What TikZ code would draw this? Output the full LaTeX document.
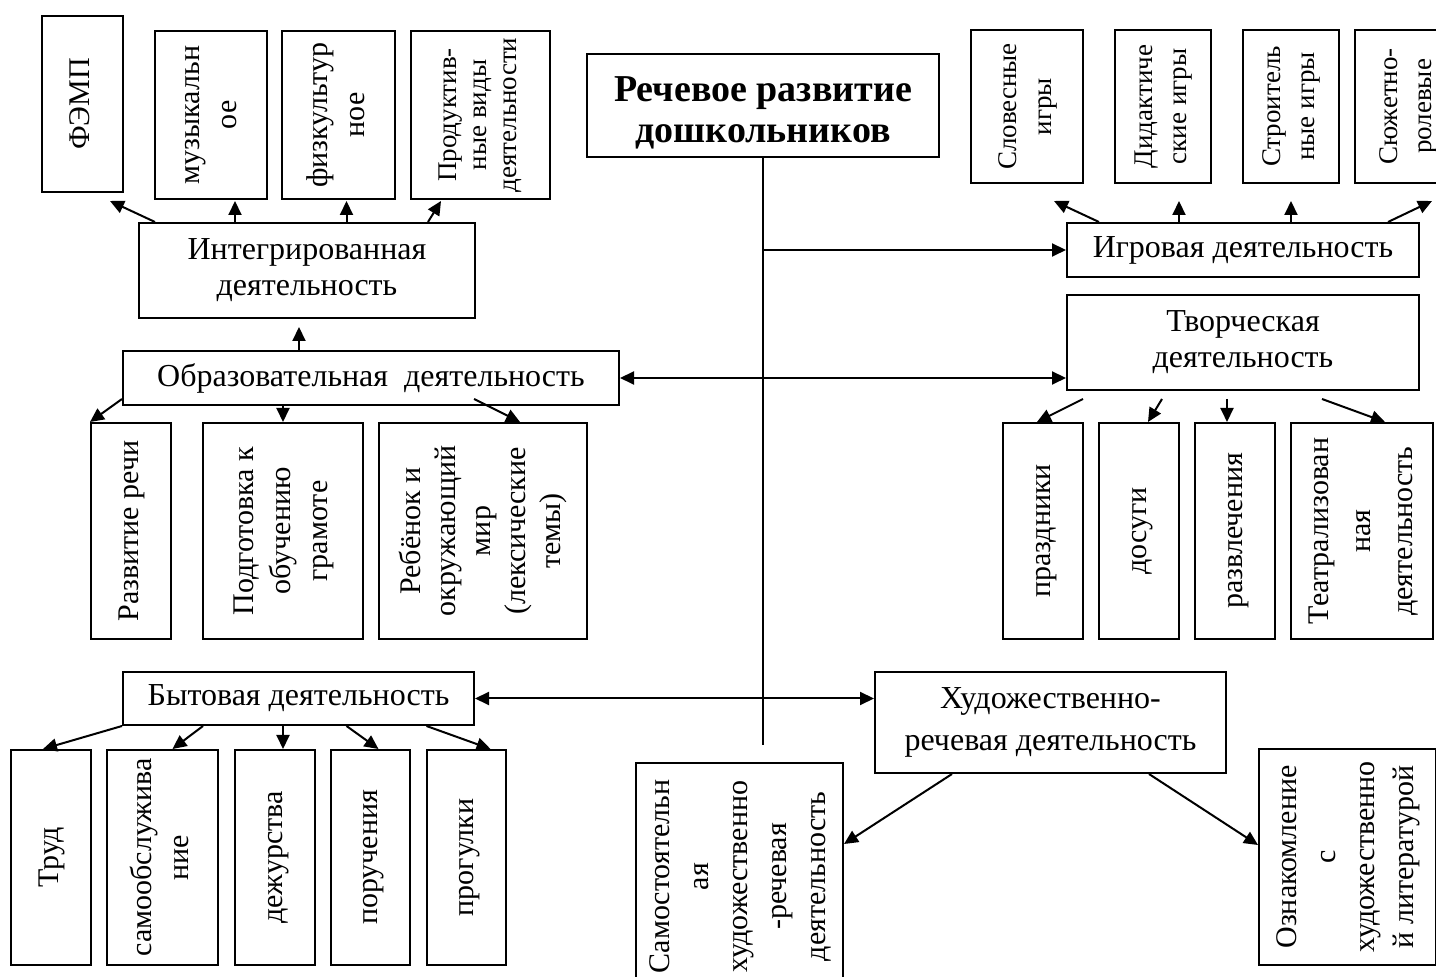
\documentclass[tikz,border=0pt]{standalone}
\usepackage{fontspec}
\setmainfont{Liberation Serif}
\usepackage{graphicx}
\usetikzlibrary{arrows.meta}

\newcommand{\vlab}[1]{\rotatebox{90}{\begin{tabular}{@{}c@{}}#1\end{tabular}}}

\tikzset{
  box/.style={draw, line width=1pt, inner sep=0pt, align=center, font=\fontsize{16}{18}\selectfont},
  vbox/.style={box, font=\fontsize{15}{18.5}\selectfont},
  arr/.style={line width=1pt, -{Triangle[length=7pt,width=6.5pt]}},
  dblarr/.style={line width=1pt, {Triangle[length=7pt,width=6.5pt]}-{Triangle[length=7pt,width=6.5pt]}}
}

\begin{document}
\begin{tikzpicture}[x=0.5pt, y=-0.5pt]
\useasboundingbox (0,0) rectangle (1436,977);

\node[box, minimum width=176pt, minimum height=51.5pt, font=\fontsize{19}{20.5}\selectfont\bfseries] (title) at (763,105.5) {\rule{0pt}{20pt}Речевое развитие\\дошкольников};

% left top
\node[vbox, minimum width=40.5pt, minimum height=88pt] (fem) at (82.5,104) {\vlab{ФЭМП}};
\node[vbox, minimum width=56pt, minimum height=84pt] (mus) at (211,115) {\vlab{музыкальн\\ое}};
\node[vbox, minimum width=56.5pt, minimum height=84pt] (fiz) at (338.5,115) {\vlab{физкультур\\ное}};
\node[vbox, minimum width=69.5pt, minimum height=84pt, font=\fontsize{13.5}{15}\selectfont] (prod) at (480.5,115) {\vlab{Продуктив-\\ные виды\\деятельности}};
\node[box, minimum width=168pt, minimum height=47.5pt] (integ) at (307,270.5) {Интегрированная\\деятельность};

\node[box, minimum width=248pt, minimum height=27pt] (obr) at (371,378) {Образовательная\ \ деятельность};
\node[vbox, minimum width=40pt, minimum height=108pt] (razv) at (131,531) {\vlab{Развитие речи}};
\node[vbox, minimum width=80pt, minimum height=108pt] (podg) at (283,531) {\vlab{Подготовка к\\обучению\\грамоте}};
\node[vbox, minimum width=104pt, minimum height=108pt, font=\fontsize{15}{17.5}\selectfont] (reb) at (483,531) {\vlab{Ребёнок и\\окружающий\\мир\\(лексические\\темы)}};

% right top
\node[vbox, minimum width=56pt, minimum height=76.5pt, font=\fontsize{13.5}{17.5}\selectfont] (slov) at (1027,106.5) {\vlab{Словесные\\игры}};
\node[vbox, minimum width=48pt, minimum height=76.5pt, font=\fontsize{13.5}{17}\selectfont] (dida) at (1163,106.5) {\vlab{Дидактиче\\ские игры}};
\node[vbox, minimum width=48pt, minimum height=76.5pt, font=\fontsize{13.5}{17}\selectfont] (stro) at (1291,106.5) {\vlab{Строитель\\ные игры}};
\node[vbox, minimum width=52.5pt, minimum height=76.5pt, font=\fontsize{13.5}{17}\selectfont] (syuz) at (1407.5,106.5) {\vlab{Сюжетно-\\ролевые}};
\node[box, minimum width=176pt, minimum height=27pt] (igr) at (1243,250) {Игровая деятельность};

\node[box, minimum width=176pt, minimum height=47.5pt] (tvor) at (1243,342.5) {Творческая\\деятельность};
\node[vbox, minimum width=40pt, minimum height=108pt] (praz) at (1043,531) {\vlab{праздники}};
\node[vbox, minimum width=40pt, minimum height=108pt] (dos) at (1139,531) {\vlab{досуги}};
\node[vbox, minimum width=40pt, minimum height=108pt] (razvl) at (1235,531) {\vlab{развлечения}};
\node[vbox, minimum width=71pt, minimum height=108pt, font=\fontsize{15}{21}\selectfont] (teat) at (1362,531) {\vlab{Театрализован\\ная\\деятельность}};

% bottom
\node[box, minimum width=175.5pt, minimum height=26.5pt] (byt) at (298.5,698.5) {Бытовая деятельность};
\node[vbox, minimum width=40pt, minimum height=107.5pt] (trud) at (51,857.5) {\vlab{Труд}};
\node[vbox, minimum width=55.5pt, minimum height=107.5pt] (samo) at (162.5,857.5) {\vlab{самообслужива\\ние}};
\node[vbox, minimum width=40pt, minimum height=107.5pt] (dezh) at (275,857.5) {\vlab{дежурства}};
\node[vbox, minimum width=39.5pt, minimum height=107.5pt] (poru) at (370.5,857.5) {\vlab{поручения}};
\node[vbox, minimum width=39.5pt, minimum height=107.5pt] (prog) at (466.5,857.5) {\vlab{прогулки}};

\node[box, minimum width=175.5pt, minimum height=50.5pt, font=\fontsize{16}{21}\selectfont] (khud) at (1050.5,722.5) {Художественно-\\речевая деятельность};
\node[vbox, minimum width=103.5pt, minimum height=113.5pt, font=\fontsize{15}{19.5}\selectfont] (samost) at (739.5,876.5) {\vlab{Самостоятельн\\ая\\художественно\\-речевая\\деятельность}};
\node[vbox, minimum width=88.5pt, minimum height=108pt, font=\fontsize{15}{19.5}\selectfont] (ozn) at (1347.5,857) {\vlab{Ознакомление\\с\\художественно\\й литературой}};

% stem and links
\coordinate (stemend) at (763,745);
\draw[line width=1pt] (title.south) -- (stemend);
\draw[arr] (title.south |- igr.west) -- (igr.west);
\draw[dblarr] (obr.east) -- (obr.east -| tvor.west);
\draw[dblarr] (byt.east) -- (byt.east -| khud.west);

\draw[arr] ([xshift=8.5pt]integ.north west) -- ([xshift=-7pt,yshift=-4pt]fem.south east);
\draw[arr] ([xshift=12pt]mus.south |- integ.north) -- ([xshift=12pt,yshift=-0.5pt]mus.south);
\draw[arr] ([xshift=4pt]fiz.south |- integ.north) -- ([xshift=4pt,yshift=-0.5pt]fiz.south);
\draw[arr] ([xshift=-24pt]integ.north east) -- ([xshift=15.5pt,yshift=-0.5pt]prod.south west);
\draw[arr] ([xshift=-36pt]obr.north) -- ([xshift=-36pt,yshift=-4pt]obr.north |- integ.south);

\draw[arr] ([yshift=3.5pt]obr.south west) -- (razv.north west);
\draw[arr] (obr.south -| podg.north) -- (podg.north);
\draw[arr] ([xshift=51.5pt,yshift=3.5pt]obr.south) -- ([xshift=18.5pt]reb.north);

\draw[arr] ([xshift=16.5pt]igr.north west) -- ([xshift=-15pt,yshift=-8.5pt]slov.south east);
\draw[arr] ([xshift=8pt]dida.south |- igr.north) -- ([xshift=8pt,yshift=-8.5pt]dida.south);
\draw[arr] (stro.south |- igr.north) -- ([yshift=-8.5pt]stro.south);
\draw[arr] ([xshift=-16pt]igr.north east) -- ([xshift=39pt,yshift=-8.5pt]syuz.south west);

\draw[arr] ([xshift=8.5pt,yshift=-4pt]tvor.south west) -- ([xshift=-3pt]praz.north);
\draw[arr] ([xshift=48pt,yshift=-4pt]tvor.south west) -- ([xshift=4.5pt]dos.north);
\draw[arr] ([xshift=-4pt,yshift=-4pt]razvl.north |- tvor.south) -- ([xshift=-4pt]razvl.north);
\draw[arr] ([xshift=39.5pt,yshift=-4pt]tvor.south) -- ([xshift=11.5pt]teat.north);

\draw[arr] (byt.south west) -- ([xshift=-4pt]trud.north);
\draw[arr] ([xshift=40.5pt]byt.south west) -- ([xshift=5pt]samo.north);
\draw[arr] ([xshift=4pt]dezh.north |- byt.south) -- ([xshift=4pt]dezh.north);
\draw[arr] ([xshift=24pt]byt.south) -- ([xshift=4pt]poru.north);
\draw[arr] ([xshift=64pt]byt.south) -- ([xshift=12pt]prog.north);

\draw[arr] ([xshift=39pt]khud.south west) -- ([yshift=-41pt]samost.north east);
\draw[arr] ([xshift=-39pt]khud.south east) -- ([yshift=6pt]ozn.west);
\end{tikzpicture}
\end{document}
